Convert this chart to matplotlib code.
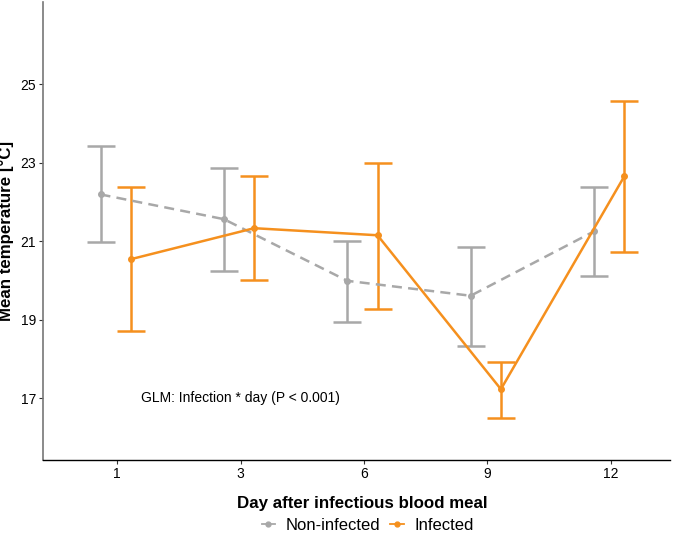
import numpy as np
import matplotlib
matplotlib.use("Agg")
import matplotlib.pyplot as plt
from matplotlib.lines import Line2D

plt.rcParams["font.family"] = ["Liberation Sans", "DejaVu Sans"]

## -- data --
days = ["1", "3", "6", "9", "12"]
non_mean = [22.19, 21.56, 19.99, 19.61, 21.25]
non_upper = [23.43, 22.87, 21.00, 20.85, 22.37]
non_lower = [20.97, 20.24, 18.95, 18.34, 20.11]
inf_mean = [20.54, 21.33, 21.15, 17.23, 22.65]
inf_upper = [22.37, 22.65, 23.00, 17.92, 24.57]
inf_lower = [18.72, 20.01, 19.28, 16.49, 20.72]
yticks = [17, 19, 21, 23, 25]

grey = "#A8A8A8"
orange = "#F5901E"


def main():
    fig = plt.figure(figsize=(6.85, 5.36), dpi=100)
    ax = fig.add_axes([0.063, 0.142, 0.915, 0.855])
    x = np.arange(1, len(days) + 1)

    series = [
        (x - 0.135, non_mean, non_lower, non_upper, grey, (0, (4, 2.5)), "Non-infected"),
        (x + 0.11, inf_mean, inf_lower, inf_upper, orange, "-", "Infected"),
    ]
    for xs, m, lo, hi, col, ls, lbl in series:
        m = np.array(m)
        yerr = [m - np.array(lo), np.array(hi) - m]
        ax.errorbar(xs, m, yerr=yerr, fmt="none", ecolor=col, elinewidth=1.8,
                    capsize=10, capthick=1.8, zorder=2)
        ax.plot(xs, m, color=col, linestyle=ls, linewidth=1.8, marker="o",
                markersize=4, zorder=3, label=lbl)

    ax.text(2, 17, "GLM: Infection * day (P < 0.001)", ha="center", va="center",
            fontsize=10, color="black")

    ax.set_xlim(0.40, 5.48)
    ax.set_ylim(15.43, 27.1)
    ax.set_xticks(x)
    ax.set_xticklabels(days)
    ax.set_yticks(yticks)
    ax.tick_params(axis="both", labelsize=10, length=3, color="#333333",
                   labelcolor="black", pad=2)
    for s in ["top", "right"]:
        ax.spines[s].set_visible(False)
    ax.spines["left"].set_color("#777777")
    ax.spines["left"].set_linewidth(1.2)
    ax.spines["bottom"].set_color("black")
    ax.spines["bottom"].set_linewidth(1.0)

    ax.set_xlabel("Day after infectious blood meal", fontsize=12.2,
                  fontweight="bold")
    ax.set_ylabel("Mean temperature [°C]", fontsize=12.2, fontweight="bold")
    ax.xaxis.set_label_coords(0.51, -0.078)
    ax.yaxis.set_label_coords(-0.046, 0.5)

    handles = [
        Line2D([], [], color=grey, linestyle="-", linewidth=1.3, marker="o",
               markersize=3.5),
        Line2D([], [], color=orange, linestyle="-", linewidth=1.3, marker="o",
               markersize=3.5),
    ]
    fig.legend(handles, ["Non-infected", "Infected"], loc="center",
               bbox_to_anchor=(0.537, 0.019), ncol=2, frameon=False, fontsize=12,
               handlelength=0.8, handletextpad=0.65, columnspacing=0.6,
               borderpad=0)

    fig.savefig("out.png", dpi=100)


if __name__ == "__main__":
    main()
